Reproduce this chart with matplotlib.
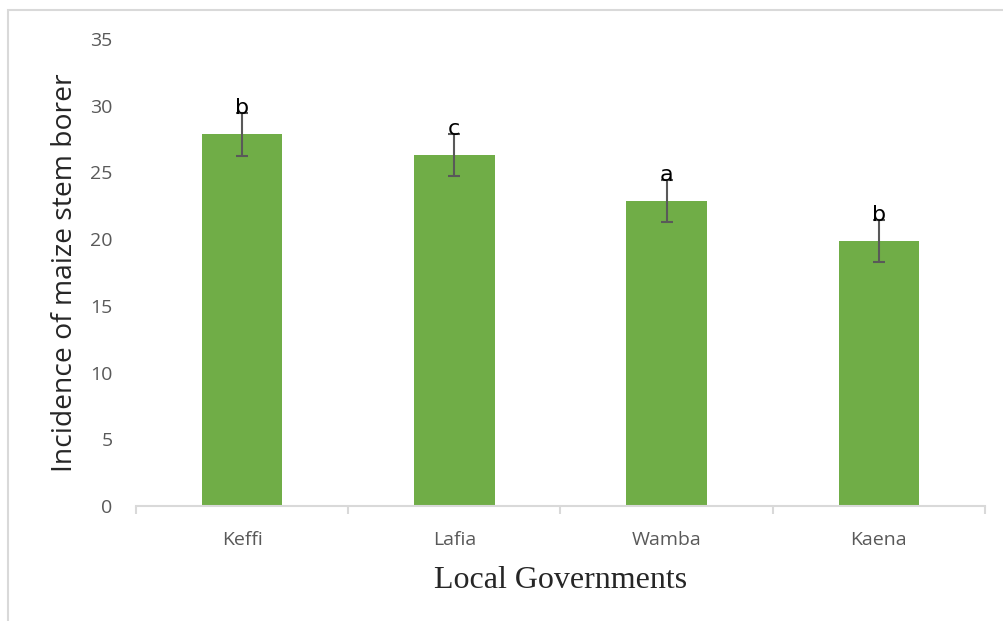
import matplotlib.pyplot as plt
from matplotlib.patches import Rectangle
import numpy as np

# incidence of maize stem borer per local government
governments = ["Keffi", "Lafia", "Wamba", "Kaena"]
incidence = [27.85, 26.3, 22.85, 19.85]
std_err = [1.6, 1.6, 1.6, 1.6]
letters = ["b", "c", "a", "b"]

bar_green = "#70ad47"
grey = "#595959"

fig = plt.figure(figsize=(10.04, 6.21), dpi=100)
ax = fig.add_axes([136 / 1004, 1 - 506 / 621, (985 - 136) / 1004, (506 - 39) / 621])

# light frame round the whole chart
fig.patches.append(Rectangle((8.5 / 1004, -0.1), 1.2, 1 - 9.5 / 621 + 0.1,
                             transform=fig.transFigure, fill=False,
                             edgecolor="#d9d9d9", lw=1.5))

xs = np.arange(len(governments))
ax.bar(xs, incidence, width=0.38, color=bar_green, zorder=2)
ax.errorbar(xs, incidence, yerr=std_err, fmt="none", ecolor=grey,
            elinewidth=1.5, capsize=4.5, capthick=1.5, zorder=3)

for x, y, e, s in zip(xs, incidence, std_err, letters):
    ax.text(x, y + e - 0.1, s, ha="center", va="baseline", fontsize=16,
            family="DejaVu Sans", color="black", zorder=4)

ax.set_xlim(-0.5, len(governments) - 0.5)
ax.set_ylim(0, 35)
ax.set_yticks(range(0, 36, 5))
ax.set_xticks(xs)
ax.set_xticklabels(governments)
ax.set_xticks(np.arange(-0.5, len(governments), 1), minor=True)

for side in ["top", "right", "left"]:
    ax.spines[side].set_visible(False)
ax.spines["bottom"].set_color("#d9d9d9")
ax.spines["bottom"].set_linewidth(1.5)

ax.tick_params(axis="y", length=0, pad=17, labelsize=14, labelcolor=grey)
ax.tick_params(axis="x", which="major", length=0, pad=18, labelsize=14, labelcolor=grey)
ax.tick_params(axis="x", which="minor", length=6, width=1.5, color="#d9d9d9")
for lab in ax.get_xticklabels() + ax.get_yticklabels():
    lab.set_family("Open Sans")

ax.set_ylabel("Incidence of maize stem borer", family="Open Sans", fontsize=20.3,
              color="#262626", labelpad=8)
ax.set_xlabel("Local Governments", family="Liberation Serif", fontsize=23,
              color="#262626", labelpad=12)

plt.savefig("out.png", dpi=100)
